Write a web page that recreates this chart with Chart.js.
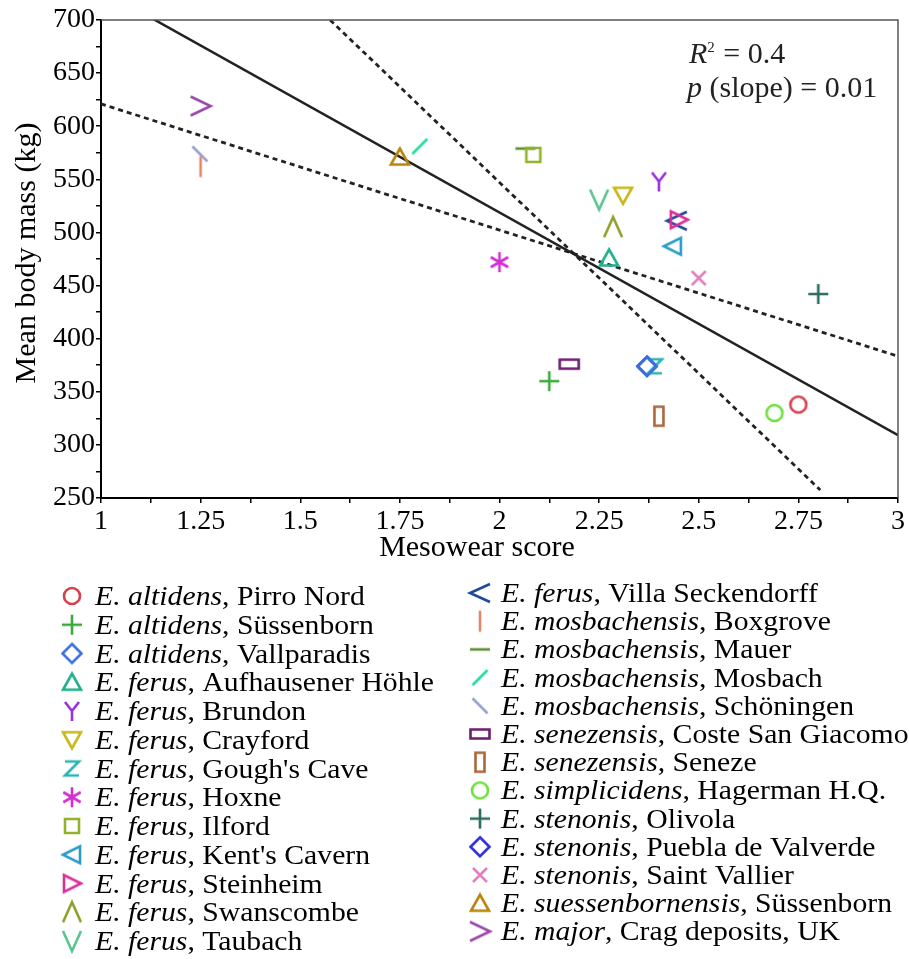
<!DOCTYPE html>
<html>
<head>
<meta charset="utf-8">
<script src="https://cdn.jsdelivr.net/npm/chart.js@4.4.0/dist/chart.umd.min.js"></script>
<style>
  html, body { margin: 0; padding: 0; background: #fff; }
  canvas { display: block; }
</style>
</head>
<body>
<canvas id="chart" width="909" height="959"></canvas>
<script>
// --- data ---
const species = ['altidens', 'altidens', 'altidens', 'ferus', 'ferus', 'ferus', 'ferus', 'ferus', 'ferus',
  'ferus', 'ferus', 'ferus', 'ferus', 'ferus', 'mosbachensis', 'mosbachensis', 'mosbachensis', 'mosbachensis',
  'senezensis', 'senezensis', 'simplicidens', 'stenonis', 'stenonis', 'stenonis', 'suessenbornensis', 'major'];
const sites = ['Pirro Nord', 'Süssenborn', 'Vallparadis', 'Aufhausener Höhle', 'Brundon', 'Crayford',
  "Gough's Cave", 'Hoxne', 'Ilford', "Kent's Cavern", 'Steinheim', 'Swanscombe', 'Taubach', 'Villa Seckendorff',
  'Boxgrove', 'Mauer', 'Mosbach', 'Schöningen', 'Coste San Giacomo', 'Seneze', 'Hagerman H.Q.', 'Olivola',
  'Puebla de Valverde', 'Saint Vallier', 'Süssenborn', 'Crag deposits, UK'];
const mesowear = [2.75, 2.125, 2.37, 2.275, 2.40, 2.31, 2.39, 2.0, 2.085, 2.435, 2.45, 2.285, 2.25, 2.445,
  1.25, 2.065, 1.80, 1.248, 2.175, 2.40, 2.69, 2.80, 2.37, 2.50, 1.75, 1.25];
const bodyMass = [338, 360, 374, 476, 548, 535, 374, 472, 573, 487, 512, 505, 531, 511,
  562, 579, 581, 574, 376, 327, 330, 442, 374, 457, 571, 619];

// regression line and the two dotted bounds (end points)
const fitX = [1, 3];
const fitY = [728.4, 309.2];
const boundAX = [1, 3];
const boundAY = [621, 383.5];
const boundBX = [1.575, 2.805];
const boundBY = [700, 257.5];

const xTickLabels = ['1', '1.25', '1.5', '1.75', '2', '2.25', '2.5', '2.75', '3'];
const yTickLabels = ['250', '300', '350', '400', '450', '500', '550', '600', '650', '700'];
const xTitle = 'Mesowear score';
const yTitle = 'Mean body mass (kg)';

// --- styles ---
const markerKinds = ['circle', 'plus', 'diamond', 'triUp', 'wye', 'triDown', 'zed', 'asterisk', 'square',
  'triLeft', 'triRight', 'caret', 'vee', 'lt', 'vbar', 'hbar', 'slash', 'backslash', 'wideRect', 'tallRect',
  'circle', 'plus', 'diamond', 'cross', 'triUp', 'gt'];
const markerColors = ['#d8404c', '#3aaa3a', '#3b6fe0', '#20b08a', '#9b30e0', '#c8b81c', '#28b4b8', '#d22ed2',
  '#90b22c', '#2a9cc8', '#dc2e98', '#8ea02c', '#5cc490', '#1e4a98', '#e0866a', '#5a8c34', '#22e09a', '#98a4d0',
  '#6e1c70', '#a8683c', '#70e040', '#2c6c5c', '#2e2ed8', '#e080c0', '#b8860b', '#9a48a8'];

const serif = '"Liberation Serif", "Times New Roman", serif';
const FS = 28;        // tick labels
const TITLE_FS = 30;  // axis titles, stats text
const LEG_FS = 27;    // legend text
const LEG_STRETCH = 1.1;

function makeMarker(kind, color) {
  const c = document.createElement('canvas');
  c.width = 28; c.height = 28;
  const g = c.getContext('2d');
  g.translate(14, 14);
  g.strokeStyle = color;
  g.lineWidth = 2.6;
  g.lineJoin = 'miter';
  g.beginPath();
  const poly = (pts, close) => {
    g.moveTo(pts[0][0], pts[0][1]);
    for (let i = 1; i < pts.length; i++) g.lineTo(pts[i][0], pts[i][1]);
    if (close) g.closePath();
  };
  switch (kind) {
    case 'circle': g.arc(0, 0, 8, 0, Math.PI * 2); break;
    case 'plus': poly([[-10, 0], [10, 0]]); poly([[0, -10], [0, 10]]); break;
    case 'diamond': poly([[0, -9.5], [9.5, 0], [0, 9.5], [-9.5, 0]], true); break;
    case 'triUp': poly([[0, -8.5], [9, 7.5], [-9, 7.5]], true); break;
    case 'triDown': poly([[-9, -7.5], [9, -7.5], [0, 8.5]], true); break;
    case 'triLeft': poly([[-9, 0], [8, -8.5], [8, 8.5]], true); break;
    case 'triRight': poly([[9, 0], [-8, -8.5], [-8, 8.5]], true); break;
    case 'wye': poly([[-7, -9], [0, 0], [7, -9]]); poly([[0, 0], [0, 10]]); break;
    case 'zed': poly([[-7, -7], [7, -7], [-7, 7], [7, 7]]); break;
    case 'asterisk':
      poly([[0, -10], [0, 10]]);
      poly([[-8.7, -5], [8.7, 5]]);
      poly([[-8.7, 5], [8.7, -5]]);
      break;
    case 'square': g.rect(-7, -7, 14, 14); break;
    case 'caret': poly([[-9, 10], [0, -10], [9, 10]]); break;
    case 'vee': poly([[-9, -10], [0, 10], [9, -10]]); break;
    case 'lt': poly([[10, -9], [-10, 0], [10, 9]]); break;
    case 'gt': poly([[-10, -9.5], [10, 0], [-10, 9.5]]); break;
    case 'vbar': poly([[0, -10.5], [0, 10.5]]); break;
    case 'hbar': poly([[-10, 0], [10, 0]]); break;
    case 'slash': poly([[-7.5, 7.5], [7.5, -7.5]]); break;
    case 'backslash': poly([[-7.5, -7.5], [7.5, 7.5]]); break;
    case 'wideRect': g.rect(-9.5, -4.5, 19, 9); break;
    case 'tallRect': g.rect(-4.5, -9.5, 9, 19); break;
    case 'cross': poly([[-7, -7], [7, 7]]); poly([[-7, 7], [7, -7]]); break;
  }
  g.stroke();
  return c;
}

const markers = markerKinds.map((k, i) => makeMarker(k, markerColors[i]));

const pointSets = mesowear.map((x, i) => ({
  label: 'E. ' + species[i] + ', ' + sites[i],
  data: [{ x: x, y: bodyMass[i] }],
  pointStyle: markers[i],
  pointRadius: 8,
  pointHoverRadius: 8
}));

function lineSet(xs, ys, dashed) {
  return {
    data: xs.map((x, i) => ({ x: x, y: ys[i] })),
    showLine: true,
    pointRadius: 0,
    borderColor: '#222',
    borderWidth: dashed ? 2.8 : 2.5,
    borderDash: dashed ? [5, 4] : [],
    fill: false
  };
}

const lineSets = [
  lineSet(fitX, fitY, false),
  lineSet(boundAX, boundAY, true),
  lineSet(boundBX, boundBY, true)
];

const majorX = xTickLabels.map(Number);
const majorY = yTickLabels.map(Number);
const minorX = majorX.slice(1).map((v, i) => (v + majorX[i]) / 2);
const minorY = majorY.slice(1).map((v, i) => (v + majorY[i]) / 2);

const framePlugin = {
  id: 'frame',
  afterDatasetsDraw(chart) {
    const { ctx, chartArea: a } = chart;
    ctx.save();
    ctx.strokeStyle = '#555';
    ctx.lineWidth = 1.5;
    ctx.beginPath();
    ctx.moveTo(a.left, a.top);
    ctx.lineTo(a.right, a.top);
    ctx.lineTo(a.right, a.bottom);
    ctx.stroke();
    ctx.restore();
  }
};

// axis titles sit a little off the scale centres in the original figure
const titlesPlugin = {
  id: 'axisTitles',
  afterDraw(chart) {
    const ctx = chart.ctx;
    ctx.save();
    ctx.fillStyle = '#000';
    ctx.font = `${TITLE_FS}px ${serif}`;
    ctx.textAlign = 'center';
    ctx.textBaseline = 'middle';
    ctx.fillText(xTitle, 477, 548);
    ctx.translate(27, 253);
    ctx.rotate(-Math.PI / 2);
    ctx.fillText(yTitle, 0, 0);
    ctx.restore();
  }
};

const statsPlugin = {
  id: 'stats',
  afterDraw(chart) {
    const ctx = chart.ctx;
    ctx.save();
    ctx.fillStyle = '#222';
    ctx.textBaseline = 'alphabetic';
    let x = 689;
    ctx.font = `italic ${TITLE_FS}px ${serif}`;
    ctx.fillText('R', x, 63);
    x += ctx.measureText('R').width;
    ctx.font = `${Math.round(TITLE_FS * 0.5)}px ${serif}`;
    ctx.fillText('2', x, 52);
    x += ctx.measureText('2').width + 1;
    ctx.font = `${TITLE_FS}px ${serif}`;
    ctx.fillText(' = 0.4', x, 63);

    x = 687;
    ctx.font = `italic ${TITLE_FS}px ${serif}`;
    ctx.fillText('p', x, 97);
    x += ctx.measureText('p').width;
    ctx.font = `${TITLE_FS}px ${serif}`;
    ctx.fillText(' (slope) = 0.01', x, 97);
    ctx.restore();
  }
};

const legendPlugin = {
  id: 'speciesLegend',
  afterDraw(chart) {
    const ctx = chart.ctx;
    ctx.save();
    ctx.fillStyle = '#000';
    ctx.textBaseline = 'middle';
    const half = Math.ceil(species.length / 2);
    species.forEach((sp, i) => {
      const col = i < half ? 0 : 1;
      const row = col ? i - half : i;
      const mx = col ? 480 : 72;
      const tx = col ? 501 : 95;
      const y = col ? 593 + row * 28.2 : 596 + row * 28.75;
      ctx.drawImage(markers[i], mx - 14, y - 14);
      ctx.save();
      ctx.translate(tx, y + 2);
      ctx.scale(LEG_STRETCH, 1);
      ctx.font = `italic ${LEG_FS}px ${serif}`;
      const it = 'E. ' + sp;
      ctx.fillText(it, 0, 0);
      const w = ctx.measureText(it).width;
      ctx.font = `${LEG_FS}px ${serif}`;
      ctx.fillText(', ' + sites[i], w, 0);
      ctx.restore();
    });
    ctx.restore();
  }
};

const tickFont = { family: serif, size: FS };

new Chart(document.getElementById('chart'), {
  type: 'scatter',
  data: { datasets: pointSets.concat(lineSets) },
  plugins: [framePlugin, titlesPlugin, statsPlugin, legendPlugin],
  options: {
    responsive: false,
    animation: false,
    events: [],
    layout: { padding: { top: 20, right: 11, bottom: 391, left: 0 } },
    plugins: { legend: { display: false }, tooltip: { enabled: false } },
    scales: {
      x: {
        type: 'linear',
        min: 1,
        max: 3,
        afterBuildTicks: s => { s.ticks = majorX.concat(minorX).sort((a, b) => a - b).map(v => ({ value: v })); },
        afterFit: s => { s.height = 70; },
        ticks: {
          autoSkip: false,
          maxRotation: 0,
          padding: 2,
          color: '#000',
          font: tickFont,
          callback: v => { const k = majorX.indexOf(v); return k >= 0 ? xTickLabels[k] : ''; }
        },
        grid: { drawOnChartArea: false, drawTicks: true, tickLength: 5, color: '#000', lineWidth: 1.5 },
        border: { color: '#000', width: 2 }
      },
      y: {
        type: 'linear',
        min: 250,
        max: 700,
        afterBuildTicks: s => { s.ticks = majorY.concat(minorY).sort((a, b) => a - b).map(v => ({ value: v })); },
        afterFit: s => { s.width = 101; },
        ticks: {
          autoSkip: false,
          padding: 1,
          color: '#000',
          font: tickFont,
          callback: v => { const k = majorY.indexOf(v); return k >= 0 ? yTickLabels[k] : ''; }
        },
        grid: { drawOnChartArea: false, drawTicks: true, tickLength: 5, color: '#000', lineWidth: 1.5 },
        border: { color: '#000', width: 2 }
      }
    }
  }
});
</script>
</body>
</html>
